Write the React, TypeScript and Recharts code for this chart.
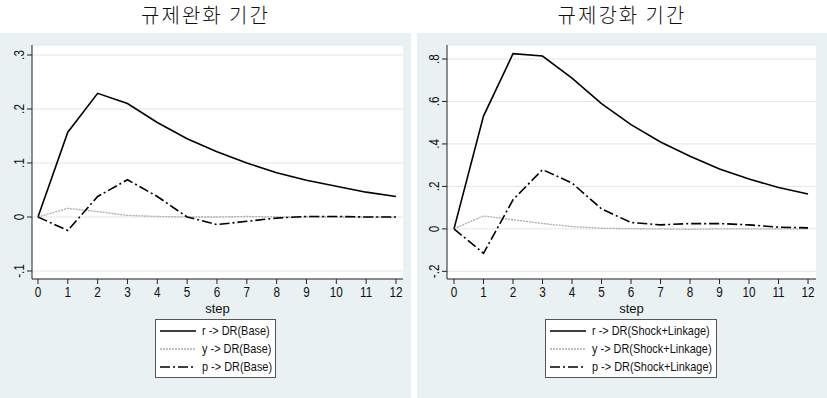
import React from 'react';
import { LineChart, Line, XAxis, YAxis, CartesianGrid } from 'recharts';

const steps = [0, 1, 2, 3, 4, 5, 6, 7, 8, 9, 10, 11, 12];

const baseR = [0, 0.157, 0.229, 0.21, 0.175, 0.145, 0.121, 0.1, 0.082, 0.068, 0.057, 0.046, 0.038];
const baseY = [0, 0.016, 0.01, 0.003, 0.001, 0, 0, 0.001, 0, 0, 0, 0, 0];
const baseP = [0, -0.025, 0.038, 0.069, 0.038, 0, -0.014, -0.008, -0.002, 0.001, 0.001, 0, 0];

const shockR = [0, 0.531, 0.825, 0.814, 0.71, 0.59, 0.491, 0.409, 0.342, 0.282, 0.235, 0.195, 0.164];
const shockY = [0, 0.061, 0.043, 0.025, 0.011, 0.003, 0.001, 0, -0.002, 0, 0, 0, 0];
const shockP = [0, -0.115, 0.137, 0.279, 0.216, 0.094, 0.03, 0.019, 0.025, 0.025, 0.019, 0.008, 0.005];

const baseTicks = [-0.1, 0, 0.1, 0.2, 0.3];
const shockTicks = [-0.2, 0, 0.2, 0.4, 0.6, 0.8];

const BG = '#e9f1f3';
const GRID = '#dde9ec';
const FONT = '"Liberation Sans", Arial, sans-serif';
const NARROW = 0.84; // squeeze to mimic Stata's narrow sans

const lineStyles = [
  { key: 'r', stroke: '#000', width: 1.6, dash: undefined as string | undefined },
  { key: 'y', stroke: '#aaaaaa', width: 1.3, dash: '2 1' },
  { key: 'p', stroke: '#000', width: 1.6, dash: '10 3 2 3' },
];

// Stata style labels: ".3", "-.1", "0"
function stataNum(v: number) {
  if (Math.abs(v) < 1e-9) return '0';
  const s = String(Math.round(v * 10) / 10);
  return s.replace('0.', '.');
}

function YTick(props: any) {
  const { x, y, payload } = props;
  const cx = x - 5;
  return (
    <text
      transform={`translate(${cx}, ${y}) rotate(-90) scale(${NARROW}, 1)`}
      textAnchor="middle"
      dominantBaseline="central"
      fontSize={14}
      fontFamily={FONT}
      fill="#111"
    >
      {stataNum(payload.value)}
    </text>
  );
}

function XTick(props: any) {
  const { x, y, payload } = props;
  return (
    <text
      transform={`translate(${x}, ${y}) scale(${NARROW}, 1)`}
      textAnchor="middle"
      dy="0.71em"
      fontSize={14}
      fontFamily={FONT}
      fill="#111"
    >
      {payload.value}
    </text>
  );
}

interface PanelProps {
  title: string;
  left: number;
  width: number;
  r: number[];
  y: number[];
  p: number[];
  yDomain: [number, number];
  yTicks: number[];
  xDomain: [number, number];
  yAxisWidth: number;
  marginRight: number;
  suffix: string;
  legendLeft: number;
  legendWidth: number;
}

function Panel(pr: PanelProps) {
  const data = steps.map((s, i) => ({ step: s, r: pr.r[i], y: pr.y[i], p: pr.p[i] }));
  const names = lineStyles.map((l) => `${l.key} -> DR(${pr.suffix})`);
  return (
    <div style={{ position: 'absolute', left: pr.left, top: 0, width: pr.width, height: 398 }}>
      <div
        style={{
          position: 'absolute',
          top: 0,
          left: 0,
          width: pr.width,
          height: 30,
          textAlign: 'center',
          fontFamily: '"Noto Sans CJK KR", sans-serif',
          fontWeight: 300,
          fontSize: 20,
          letterSpacing: 2,
          lineHeight: '29px',
          color: '#111',
        }}
      >
        {pr.title}
      </div>
      <div style={{ position: 'absolute', top: 33, left: 0, width: pr.width, height: 365, background: BG }}>
        <LineChart
          width={pr.width}
          height={365}
          data={data}
          margin={{ top: 12, right: pr.marginRight, left: 0, bottom: 83 }}
        >
          <CartesianGrid vertical={false} stroke={GRID} fill="#fff" />
          <XAxis
            dataKey="step"
            type="number"
            domain={pr.xDomain}
            ticks={steps}
            allowDataOverflow
            height={36}
            tickSize={5}
            tickMargin={3}
            stroke="#222"
            tick={<XTick />}
            label={{ value: 'step', position: 'insideBottom', offset: 2, fontSize: 13, fontFamily: FONT, fill: '#111' }}
          />
          <YAxis
            type="number"
            domain={pr.yDomain}
            ticks={pr.yTicks}
            allowDataOverflow
            width={pr.yAxisWidth}
            tickSize={5}
            tickMargin={3}
            stroke="#222"
            tick={<YTick />}
          />
          {lineStyles.map((l) => (
            <Line
              key={l.key}
              dataKey={l.key}
              type="linear"
              stroke={l.stroke}
              strokeWidth={l.width}
              strokeDasharray={l.dash}
              dot={false}
              isAnimationActive={false}
            />
          ))}
        </LineChart>
        <div
          style={{
            position: 'absolute',
            left: pr.legendLeft,
            top: 286,
            width: pr.legendWidth,
            height: 59,
            background: '#fff',
            border: '1px solid #555',
            boxSizing: 'border-box',
          }}
        >
          <svg width={pr.legendWidth - 2} height={57} style={{ display: 'block' }}>
            {lineStyles.map((l, i) => (
              <g key={l.key}>
                <line
                  x1={4}
                  x2={40}
                  y1={11 + i * 18}
                  y2={11 + i * 18}
                  stroke={l.stroke}
                  strokeWidth={l.width}
                  strokeDasharray={l.dash}
                />
                <text
                  transform={`translate(46, ${11 + i * 18}) scale(${NARROW}, 1)`}
                  dominantBaseline="central"
                  fontSize={13}
                  fontFamily={FONT}
                  fill="#111"
                >
                  {names[i]}
                </text>
              </g>
            ))}
          </svg>
        </div>
      </div>
    </div>
  );
}

export default function App() {
  return (
    <div style={{ position: 'fixed', left: 0, top: 0, width: 827, height: 398, background: '#fff', overflow: 'hidden' }}>
      <Panel
        title="규제완화 기간"
        left={0}
        width={411}
        r={baseR}
        y={baseY}
        p={baseP}
        yDomain={[-0.1148, 0.3185]}
        yTicks={baseTicks}
        xDomain={[-0.2, 12.235]}
        yAxisWidth={32}
        marginRight={8}
        suffix="Base"
        legendLeft={155}
        legendWidth={121}
      />
      <Panel
        title="규제강화 기간"
        left={417}
        width={410}
        r={shockR}
        y={shockY}
        p={shockP}
        yDomain={[-0.236, 0.866]}
        yTicks={shockTicks}
        xDomain={[-0.237, 12.27]}
        yAxisWidth={30}
        marginRight={11}
        suffix="Shock+Linkage"
        legendLeft={128}
        legendWidth={172}
      />
    </div>
  );
}
